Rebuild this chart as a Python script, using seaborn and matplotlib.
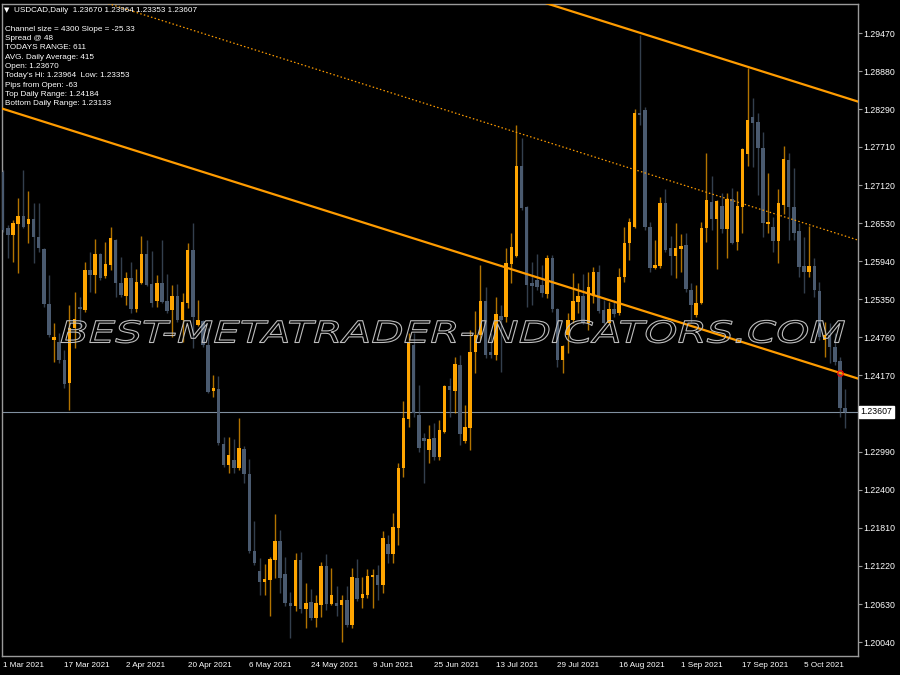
import matplotlib
matplotlib.use("Agg")
import matplotlib.pyplot as plt
import matplotlib.patheffects as pe
from matplotlib.transforms import Affine2D
import numpy as np
import pandas as pd
import seaborn as sns

# USDCAD daily candles, 1 Mar 2021 .. 15 Oct 2021
opens = [1.2732, 1.2645, 1.2635, 1.2652, 1.2664, 1.2652, 1.2659, 1.2631, 1.2613, 1.2528,
         1.2472, 1.2469, 1.2441, 1.2405, 1.2491, 1.2523, 1.2518, 1.2580, 1.2573, 1.2605,
         1.2571, 1.2588, 1.2627, 1.2560, 1.2540, 1.2568, 1.2520, 1.2560, 1.2605, 1.2559,
         1.2532, 1.2560, 1.2532, 1.2518, 1.2540, 1.2503, 1.2529, 1.2611, 1.2495, 1.2501,
         1.2464, 1.2393, 1.2396, 1.2311, 1.2278, 1.2286, 1.2274, 1.2303, 1.2264, 1.2145,
         1.2114, 1.2097, 1.2100, 1.2131, 1.2161, 1.2109, 1.2065, 1.2060, 1.2131, 1.2055,
         1.2066, 1.2041, 1.2061, 1.2122, 1.2063, 1.2065, 1.2061, 1.2069, 1.2030, 1.2103,
         1.2072, 1.2077, 1.2105, 1.2108, 1.2092, 1.2156, 1.2140, 1.2181, 1.2274, 1.2350,
         1.2464, 1.2356, 1.2320, 1.2302, 1.2320, 1.2291, 1.2329, 1.2401, 1.2393, 1.2433,
         1.2315, 1.2336, 1.2453, 1.2480, 1.2532, 1.2453, 1.2449, 1.2509, 1.2508, 1.2590,
         1.2602, 1.2741, 1.2678, 1.2560, 1.2565, 1.2557, 1.2543, 1.2599, 1.2520, 1.2441,
         1.2480, 1.2503, 1.2531, 1.2540, 1.2498, 1.2540, 1.2577, 1.2518, 1.2498, 1.2520,
         1.2514, 1.2570, 1.2622, 1.2647, 1.2824, 1.2828, 1.2647, 1.2584, 1.2587, 1.2684,
         1.2614, 1.2602, 1.2613, 1.2619, 1.2549, 1.2511, 1.2529, 1.2645, 1.2686, 1.2659,
         1.2680, 1.2644, 1.2690, 1.2624, 1.2678, 1.2760, 1.2817, 1.2810, 1.2769, 1.2652,
         1.2647, 1.2625, 1.2681, 1.2751, 1.2678, 1.2641, 1.2587, 1.2577, 1.2587, 1.2548,
         1.2472, 1.2480, 1.2461, 1.2439, 1.23670]
highs = [1.2735, 1.2650, 1.2658, 1.2692, 1.2735, 1.2703, 1.2684, 1.2684, 1.2614, 1.2573,
         1.2498, 1.2483, 1.2456, 1.2526, 1.2546, 1.2539, 1.2593, 1.2608, 1.2628, 1.2607,
         1.2624, 1.2647, 1.2628, 1.2600, 1.2577, 1.2593, 1.2582, 1.2633, 1.2627, 1.2610,
         1.2573, 1.2627, 1.2574, 1.2557, 1.2559, 1.2545, 1.2622, 1.2653, 1.2534, 1.2503,
         1.2491, 1.2418, 1.2416, 1.2322, 1.2322, 1.2319, 1.2351, 1.2308, 1.2288, 1.2192,
         1.2134, 1.2125, 1.2136, 1.2202, 1.2178, 1.2136, 1.2082, 1.2142, 1.2144, 1.2096,
         1.2086, 1.2077, 1.2128, 1.2140, 1.2119, 1.2091, 1.2077, 1.2091, 1.2119, 1.2133,
         1.2105, 1.2117, 1.2117, 1.2123, 1.2176, 1.2170, 1.2204, 1.2281, 1.2377, 1.2483,
         1.2483, 1.2402, 1.2328, 1.2340, 1.2343, 1.2348, 1.2402, 1.2413, 1.2446, 1.2449,
         1.2371, 1.2487, 1.2517, 1.2588, 1.2554, 1.2483, 1.2539, 1.2526, 1.2614, 1.2638,
         1.2805, 1.2785, 1.2680, 1.2593, 1.2605, 1.2588, 1.2604, 1.2604, 1.2522, 1.2464,
         1.2514, 1.2576, 1.2560, 1.2574, 1.2577, 1.2585, 1.2588, 1.2534, 1.2531, 1.2534,
         1.2584, 1.2647, 1.2661, 1.2830, 1.2944, 1.2833, 1.2655, 1.2627, 1.2693, 1.2706,
         1.2633, 1.2653, 1.2636, 1.2638, 1.2560, 1.2557, 1.2655, 1.2762, 1.2726, 1.2689,
         1.2700, 1.2700, 1.2707, 1.2703, 1.2769, 1.2893, 1.2847, 1.2824, 1.2794, 1.2731,
         1.2662, 1.2706, 1.2772, 1.2762, 1.2738, 1.2653, 1.2631, 1.2649, 1.2599, 1.2562,
         1.2500, 1.2498, 1.2483, 1.2446, 1.23964]
lows = [1.2639, 1.2599, 1.2593, 1.2576, 1.2645, 1.2622, 1.2591, 1.2608, 1.2523, 1.2477,
        1.2438, 1.2436, 1.2398, 1.2364, 1.2460, 1.2492, 1.2515, 1.2546, 1.2545, 1.2565,
        1.2568, 1.2580, 1.2539, 1.2539, 1.2526, 1.2514, 1.2515, 1.2559, 1.2556, 1.2523,
        1.2523, 1.2529, 1.2514, 1.2477, 1.2500, 1.2469, 1.2522, 1.2460, 1.2494, 1.2461,
        1.2390, 1.2384, 1.2309, 1.2275, 1.2266, 1.2266, 1.2271, 1.2250, 1.2142, 1.2123,
        1.2077, 1.2077, 1.2044, 1.2103, 1.2080, 1.2060, 1.2010, 1.2052, 1.2049, 1.2026,
        1.2038, 1.2027, 1.2043, 1.2054, 1.2061, 1.2044, 1.2004, 1.2027, 1.2026, 1.2068,
        1.2057, 1.2072, 1.2057, 1.2069, 1.2080, 1.2127, 1.2127, 1.2154, 1.2260, 1.2337,
        1.2353, 1.2298, 1.2250, 1.2281, 1.2286, 1.2286, 1.2328, 1.2353, 1.2359, 1.2309,
        1.2312, 1.2302, 1.2421, 1.2472, 1.2444, 1.2444, 1.2441, 1.2422, 1.2500, 1.2560,
        1.2601, 1.2673, 1.2523, 1.2526, 1.2549, 1.2539, 1.2537, 1.2515, 1.2430, 1.2421,
        1.2452, 1.2498, 1.2514, 1.2497, 1.2487, 1.2529, 1.2514, 1.2497, 1.2497, 1.2508,
        1.2511, 1.2562, 1.2596, 1.2645, 1.2805, 1.2642, 1.2577, 1.2582, 1.2584, 1.2608,
        1.2573, 1.2568, 1.2577, 1.2546, 1.2500, 1.2508, 1.2528, 1.2624, 1.2642, 1.2582,
        1.2638, 1.2599, 1.2621, 1.2611, 1.2638, 1.2741, 1.2740, 1.2697, 1.2631, 1.2638,
        1.2608, 1.2591, 1.2667, 1.2627, 1.2627, 1.2570, 1.2545, 1.2570, 1.2539, 1.2472,
        1.2446, 1.2436, 1.2433, 1.2353, 1.23353]
closes = [1.2642, 1.2635, 1.2653, 1.2664, 1.2647, 1.2659, 1.2631, 1.2614, 1.2528, 1.2480,
          1.2477, 1.2441, 1.2404, 1.2491, 1.2505, 1.2520, 1.2580, 1.2573, 1.2605, 1.2568,
          1.2590, 1.2630, 1.2560, 1.2542, 1.2568, 1.2520, 1.2562, 1.2605, 1.2557, 1.2529,
          1.2560, 1.2531, 1.2517, 1.2540, 1.2503, 1.2531, 1.2611, 1.2508, 1.2503, 1.2464,
          1.2391, 1.2398, 1.2312, 1.2278, 1.2294, 1.2274, 1.2305, 1.2264, 1.2145, 1.2127,
          1.2097, 1.2102, 1.2133, 1.2161, 1.2103, 1.2065, 1.2060, 1.2131, 1.2055, 1.2065,
          1.2041, 1.2065, 1.2122, 1.2063, 1.2077, 1.2060, 1.2069, 1.2030, 1.2105, 1.2071,
          1.2079, 1.2106, 1.2108, 1.2092, 1.2165, 1.2140, 1.2182, 1.2274, 1.2351, 1.2467,
          1.2359, 1.2305, 1.2315, 1.2319, 1.2291, 1.2333, 1.2401, 1.2395, 1.2435, 1.2326,
          1.2337, 1.2453, 1.2480, 1.2532, 1.2449, 1.2449, 1.2512, 1.2503, 1.2591, 1.2616,
          1.2741, 1.2676, 1.2557, 1.2556, 1.2554, 1.2545, 1.2599, 1.2520, 1.2441, 1.2463,
          1.2503, 1.2532, 1.2540, 1.2498, 1.2554, 1.2577, 1.2517, 1.2498, 1.2520, 1.2512,
          1.2570, 1.2622, 1.2655, 1.2824, 1.2821, 1.2647, 1.2584, 1.2588, 1.2684, 1.2611,
          1.2602, 1.2614, 1.2618, 1.2551, 1.2526, 1.2529, 1.2645, 1.2689, 1.2659, 1.2687,
          1.2644, 1.2690, 1.2622, 1.2680, 1.2768, 1.2813, 1.2808, 1.2769, 1.2653, 1.2655,
          1.2625, 1.2684, 1.2752, 1.2678, 1.2638, 1.2585, 1.2577, 1.2587, 1.2549, 1.2477,
          1.2480, 1.2461, 1.2438, 1.2367, 1.23607]

date_labels = ["1 Mar 2021", "17 Mar 2021", "2 Apr 2021", "20 Apr 2021", "6 May 2021",
               "24 May 2021", "9 Jun 2021", "25 Jun 2021", "13 Jul 2021", "29 Jul 2021",
               "16 Aug 2021", "1 Sep 2021", "17 Sep 2021", "5 Oct 2021"]
price_ticks = [1.29470, 1.28880, 1.28290, 1.27710, 1.27120, 1.26530, 1.25940, 1.25350,
               1.24760, 1.24170, 1.22990, 1.22400, 1.21810, 1.21220, 1.20630, 1.20040]

# channel indicator: lower line value on bar 163, slope per bar, width
channel_anchor = 1.2421
channel_slope = -0.000251
channel_size = 0.0429
last_price = 1.23607

info_lines = ["Channel size = 4300 Slope = -25.33", "Spread @ 48", "TODAYS RANGE: 611",
              "AVG. Daily Average: 415", "Open: 1.23670",
              "Today's Hi: 1.23964  Low: 1.23353", "Pips from Open: -63",
              "Top Daily Range: 1.24184", "Bottom Daily Range: 1.23133"]

BULL = "#ffa500"
BEAR = "#4a5a6f"
LINE = "#ff9c00"
FRAME = "#9a9a9a"


class StretchedOutline(pe.AbstractPathEffect):
    """Draw only the outline of the text, stretched horizontally about cx (pixels)."""

    def __init__(self, sx, cx, linewidth, color):
        super().__init__()
        self.sx, self.cx, self.lw, self.color = sx, cx, linewidth, color

    def draw_path(self, renderer, gc, tpath, affine, rgbFace=None):
        gc0 = renderer.new_gc()
        gc0.copy_properties(gc)
        gc0.set_linewidth(self.lw)
        gc0.set_foreground(self.color)
        stretch = Affine2D().translate(-self.cx, 0).scale(self.sx, 1).translate(self.cx, 0)
        renderer.draw_path(gc0, tpath, affine + stretch, None)
        gc0.restore()


sns.set_theme(style="dark", rc={"axes.facecolor": "black", "figure.facecolor": "black",
                                "axes.edgecolor": FRAME, "axes.grid": False})
plt.rcParams["font.family"] = ["Liberation Sans", "DejaVu Sans"]

df = pd.DataFrame({"open": opens, "high": highs, "low": lows, "close": closes})
df["bar"] = np.arange(len(df))
df["up"] = df["close"] >= df["open"]
colors = np.where(df["up"], BULL, BEAR)

fig = plt.figure(figsize=(9, 6.75), dpi=100)
ax = fig.add_axes([2 / 900, 19 / 675, 856 / 900, 652 / 675])

# wicks and bodies
ax.vlines(df["bar"], df["low"], df["high"], colors=colors, lw=1.0, alpha=0.7, zorder=2)
body_lo = df[["open", "close"]].min(axis=1)
body_h = (df["close"] - df["open"]).abs().clip(lower=0.00013)
ax.bar(df["bar"], body_h, bottom=body_lo, width=0.68, color=colors, lw=0, zorder=3)

# regression channel
bars = np.arange(-2, 170)
lower = channel_anchor + channel_slope * (bars - 163)
channel = pd.DataFrame({"bar": bars, "lower": lower,
                        "mid": lower + channel_size / 2, "upper": lower + channel_size})
sns.lineplot(data=channel, x="bar", y="lower", color=LINE, lw=1.6, ax=ax, zorder=4)
sns.lineplot(data=channel, x="bar", y="upper", color=LINE, lw=1.6, ax=ax, zorder=4)
sns.lineplot(data=channel, x="bar", y="mid", color=LINE, lw=0.9, ls=(0, (1.2, 1.8)),
             ax=ax, zorder=4)
ax.plot([163], [channel_anchor], "o", mfc="none", mec="red", ms=4, mew=0.8, zorder=5)

# current price line
ax.axhline(last_price, color="#8090a0", lw=0.8, zorder=1)

ax.set_xlim(-0.14, 166.5)
ax.set_ylim(1.19825, 1.29924)
ax.set_xlabel("")
ax.set_ylabel("")

ax.set_xticks(np.arange(len(date_labels)) * 12)
ax.set_xticklabels(date_labels)
for lbl in ax.get_xticklabels():
    lbl.set_horizontalalignment("left")
ax.yaxis.tick_right()
ax.set_yticks(price_ticks)
ax.set_yticklabels([f"{v:.5f}" for v in price_ticks])
ax.tick_params(axis="both", colors=FRAME, labelcolor="white", labelsize=6.3,
               length=3, width=0.8, direction="out")
ax.tick_params(axis="x", pad=1.5, labelsize=5.9)
ax.tick_params(axis="y", pad=0.8)
for sp in ax.spines.values():
    sp.set_color(FRAME)
    sp.set_linewidth(1.0)

# price label box
ax.text(1.003, last_price, f"{last_price:.5f}", transform=ax.get_yaxis_transform(),
        ha="left", va="center", fontsize=6.3, color="black",
        bbox=dict(boxstyle="square,pad=0.15", fc="white", ec="white"))

# header and indicator text
def px(x, y):
    return x / 900, 1 - y / 675

fig.text(*px(3.5, 10), "\u25bc", fontsize=5, color="white", va="center",
         family=["DejaVu Sans"])
fig.text(*px(14, 10), "USDCAD,Daily  1.23670 1.23964 1.23353 1.23607", fontsize=5.9,
         color="white", va="center")
for k, line in enumerate(info_lines):
    fig.text(*px(5, 29.3 + 9.3 * k), line, fontsize=5.9, color="white", va="center")

# watermark
fig.text(*px(453, 334), "BEST-METATRADER-INDICATORS.COM", fontsize=21.5, style="italic",
         family=["DejaVu Sans"], color="none", ha="center", va="center", zorder=10,
         path_effects=[StretchedOutline(1.41, 453, 0.8, "#bdbdbd")])

fig.savefig("out.png", dpi=100, facecolor="black")
